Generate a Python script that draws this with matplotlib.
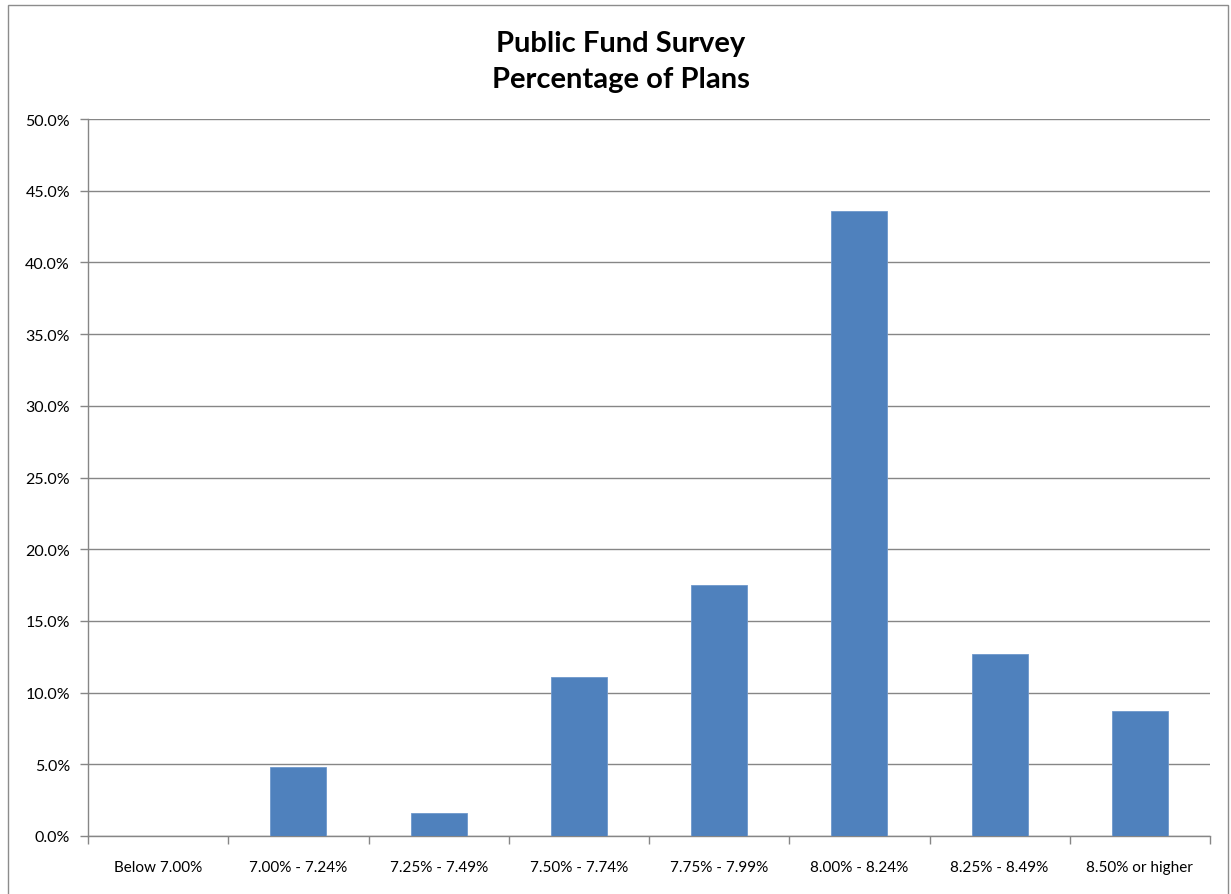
import matplotlib
matplotlib.use("Agg")
import matplotlib.pyplot as plt
import matplotlib.patches as mpatches
from matplotlib.ticker import MultipleLocator, FuncFormatter, FixedLocator
import numpy as np

# Assumed rate ranges and share of plans in each
categories = ["Below 7.00%", "7.00% - 7.24%", "7.25% - 7.49%", "7.50% - 7.74%",
              "7.75% - 7.99%", "8.00% - 8.24%", "8.25% - 8.49%", "8.50% or higher"]
pct_plans = [0.0, 4.8, 1.6, 11.1, 17.5, 43.6, 12.7, 8.7]

BAR_COLOR = "#4F81BD"
LINE_COLOR = "#868686"

plt.rcParams["font.family"] = ["Lato", "DejaVu Sans"]

fig = plt.figure(figsize=(12.31, 8.95), dpi=100)
W, H = 1231, 895

# chart frame
fig.patches.append(mpatches.Rectangle(
    (8 / W, -0.05), (1228 - 8) / W, (H - 6) / H + 0.05,
    transform=fig.transFigure, fill=False, edgecolor="#8c8c8c", linewidth=1.0))

ax = fig.add_axes([88 / W, (H - 837) / H, (1210 - 88) / W, (837 - 120) / H])

x = np.arange(len(categories))
ax.bar(x, pct_plans, width=0.4, color=BAR_COLOR, edgecolor="#6f98cc",
       linewidth=0.6, zorder=3)

ax.set_xlim(-0.5, len(categories) - 0.5)
ax.set_ylim(0, 50)
ax.yaxis.set_major_locator(MultipleLocator(5))
ax.yaxis.set_major_formatter(FuncFormatter(lambda v, _: f"{v:.1f}%"))
ax.grid(axis="y", color=LINE_COLOR, linewidth=1.0, zorder=0)

# category labels between boundary ticks
ax.set_xticks(x)
ax.set_xticklabels(categories)
ax.tick_params(axis="x", which="major", length=0, pad=17, labelsize=11)
ax.xaxis.set_minor_locator(FixedLocator(np.arange(-0.5, len(categories), 1.0)))
ax.tick_params(axis="x", which="minor", length=6, color=LINE_COLOR, width=1.0)
ax.tick_params(axis="y", length=6, color=LINE_COLOR, width=1.0, labelsize=11.5, pad=7)

for side in ("top", "right"):
    ax.spines[side].set_visible(False)
for side in ("left", "bottom"):
    ax.spines[side].set_color(LINE_COLOR)
    ax.spines[side].set_linewidth(1.0)

fig.text(621 / W, 1 - 62 / H, "Public Fund Survey\nPercentage of Plans",
         ha="center", va="center", fontsize=21, fontweight="bold",
         linespacing=1.45)

fig.savefig("out.png", dpi=100, facecolor="white")
